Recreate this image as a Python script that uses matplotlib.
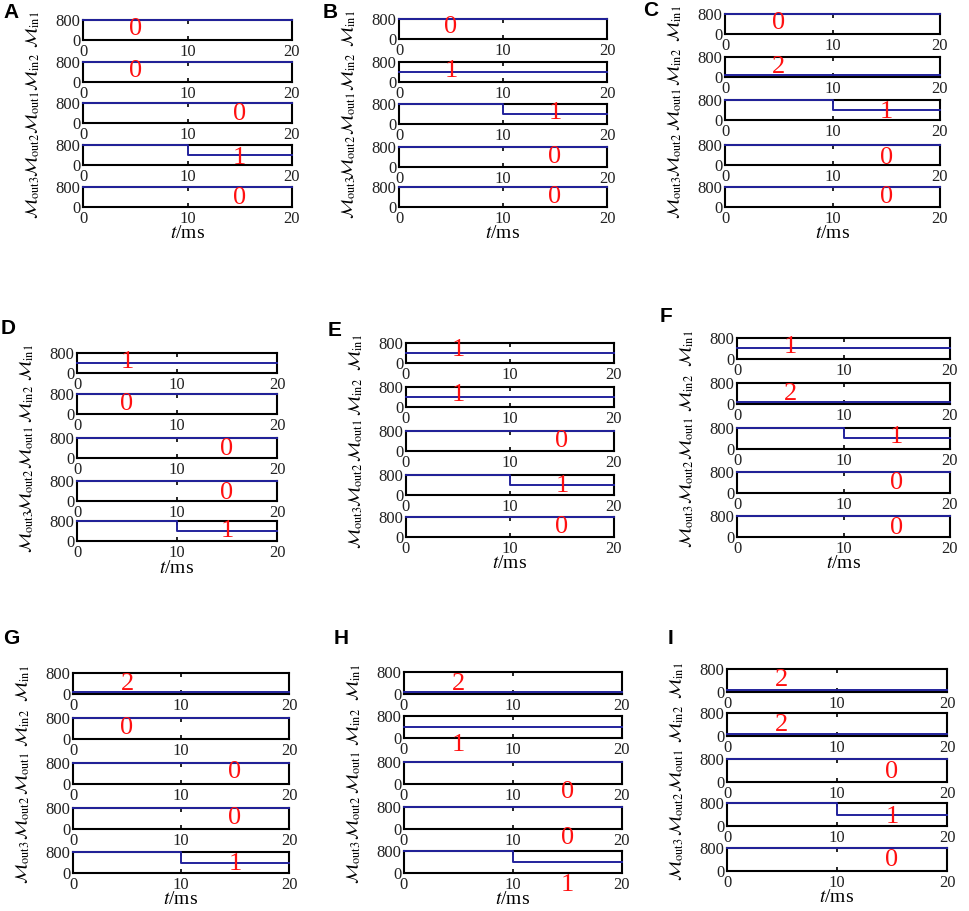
import matplotlib
matplotlib.use("Agg")
import matplotlib.pyplot as plt
import matplotlib.transforms as mtransforms

plt.rcParams['font.family'] = ['Liberation Serif', 'DejaVu Serif']
plt.rcParams['mathtext.fontset'] = 'stix'

# ---------------- data ----------------
t_ms = [0, 10, 20]                       # time axis (ms)
switch_time = 10
level_M = [800, 400, 80]                 # M value for state 0, 1, 2
signals = ['in1', 'in2', 'out1', 'out2', 'out3']
panels = ['A', 'B', 'C', 'D', 'E', 'F', 'G', 'H', 'I']
# state of inputs (constant) and outputs (after t = 10 ms); outputs start in state 0
states_in = {
    'A': [0, 0], 'B': [0, 1], 'C': [0, 2],
    'D': [1, 0], 'E': [1, 1], 'F': [1, 2],
    'G': [2, 0], 'H': [2, 1], 'I': [2, 2],
}
states_out = {
    'A': [0, 1, 0], 'B': [1, 0, 0], 'C': [1, 0, 0],
    'D': [0, 0, 1], 'E': [0, 1, 0], 'F': [1, 0, 0],
    'G': [0, 0, 1], 'H': [0, 0, 1], 'I': [0, 1, 0],
}
out_initial_state = 0
x_ticks = [0, 10, 20]
y_ticks = [0, 800]

# ---------------- layout (pixels) ----------------
W, H = 969, 911
panel_x = {
    'A': (83, 292), 'B': (399, 607), 'C': (725, 940),
    'D': (77, 277), 'E': (406, 614), 'F': (737, 950),
    'G': (73, 289), 'H': (404, 622), 'I': (727, 947),
}
panel_tops = {
    'A': [20, 62, 103, 145, 187], 'B': [19, 62, 104, 147, 187], 'C': [14, 57, 100, 145, 187],
    'D': [353, 394, 438, 481, 521], 'E': [343, 387, 431, 475, 517], 'F': [338, 383, 428, 472, 516],
    'G': [673, 718, 763, 808, 852], 'H': [672, 716, 762, 807, 851], 'I': [669, 713, 759, 803, 848],
}
panel_h = {'A': 20, 'B': 20, 'C': 20, 'D': 20, 'E': 20, 'F': 21, 'G': 21, 'H': 22, 'I': 23}
letter_pos = {
    'A': (3, 12), 'B': (323, 13), 'C': (643, 10),
    'D': (1, 328), 'E': (328, 330), 'F': (660, 316),
    'G': (3, 638), 'H': (334, 638), 'I': (668, 638),
}
label_x = [5, 5, 15, 15, 15]
label_yfrac = {
    'A': [0.56, 0.56, 0.47, 0.37, 0.45],
    'B': [0.58, 0.53, 0.55, 0.48, 0.48],
    'C': [0.53, 0.50, 0.40, 0.37, 0.48],
    'D': [0.53, 0.48, 0.45, 0.42, 0.48],
    'E': [0.63, 0.60, 0.52, 0.47, 0.48],
    'F': [0.57, 0.48, 0.55, 0.48, 0.45],
    'G': [0.50, 0.52, 0.55, 0.52, 0.43],
    'H': [0.45, -0.32, -0.36, -0.41, -0.55],
    'I': [0.50, 0.48, 0.43, 0.39, 0.50],
}
xlabel_offset_px = 27
line_color = '#22229c'

fig = plt.figure(figsize=(W / 100, H / 100), dpi=100)
fig.patch.set_facecolor('white')

for p in panels:
    l, r = panel_x[p]
    h = panel_h[p]
    w = r - l
    st = states_in[p] + states_out[p]
    for i, sig in enumerate(signals):
        top = panel_tops[p][i]
        ax = fig.add_axes([l / W, 1 - (top + h) / H, w / W, h / H])
        if i < 2:
            y = [level_M[st[i]]] * len(t_ms)
            ax.plot(t_ms, y, color=line_color, lw=1.4, clip_on=False, zorder=3)
        else:
            y = [level_M[out_initial_state], level_M[st[i]], level_M[st[i]]]
            ax.plot(t_ms, y, drawstyle='steps-post', color=line_color, lw=1.4,
                    clip_on=False, zorder=3)
        ax.set_xlim(t_ms[0], t_ms[-1])
        ax.set_ylim(y_ticks[0], y_ticks[-1])
        ax.set_xticks(x_ticks)
        ax.set_yticks(y_ticks)
        ax.tick_params(axis='x', direction='in', length=3, width=1.2, top=True,
                       labelsize=12, pad=3, colors='black', labelcolor='#222222')
        ax.tick_params(axis='y', direction='in', length=0, labelsize=12, pad=2,
                       labelcolor='#222222')
        for s in ax.spines.values():
            s.set_linewidth(1.5)
            s.set_color('black')
        ax.set_ylabel(r'$\mathcal{M}_{\mathrm{%s}}$' % sig, fontsize=12.5)
        ax.yaxis.set_label_coords(-41 / w, 0.5)
        trans = mtransforms.blended_transform_factory(ax.transData, ax.transAxes)
        ax.text(label_x[i], label_yfrac[p][i], str(st[i]), transform=trans,
                color='#ff1010', fontsize=19, ha='center', va='center',
                clip_on=False, zorder=6)
        if i == len(signals) - 1:
            ax.set_xlabel(r'$t$/ms', fontsize=14)
            ax.xaxis.label.set_va('center')
            ax.xaxis.set_label_coords(0.5, -xlabel_offset_px / h)
    lx, ly = letter_pos[p]
    fig.text(lx / W, 1 - ly / H, p, fontsize=15, fontweight='bold',
             family=['Liberation Sans', 'DejaVu Sans'], ha='left', va='center')

fig.savefig('out.png', dpi=100, facecolor='white')
